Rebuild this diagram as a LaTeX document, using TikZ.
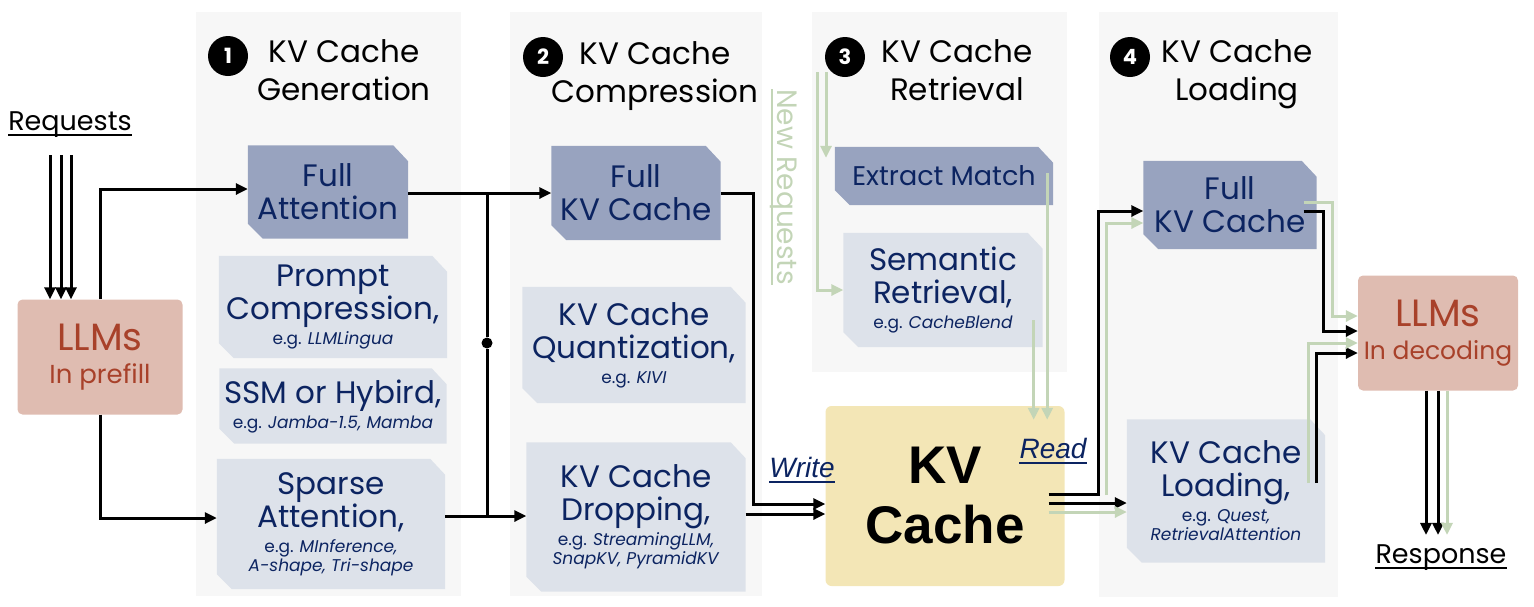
\documentclass[tikz,border=0pt]{standalone}
\usepackage{fontspec}
\setmainfont{Poppins}
\newfontfamily\kvfont{Liberation Sans}
\usetikzlibrary{calc, backgrounds, arrows.meta}

\definecolor{panelgray}{HTML}{F7F7F7}
\definecolor{darkbox}{HTML}{98A3BF}
\definecolor{lightbox}{HTML}{DDE2EA}
\definecolor{navy}{HTML}{0C2461}
\definecolor{llmbox}{HTML}{DFBCB1}
\definecolor{llmtext}{HTML}{A8412A}
\definecolor{kvyellow}{HTML}{F3E6B6}
\definecolor{newgreen}{HTML}{C3D5B7}

\newcommand{\boxsize}{\fontsize{31}{33}\selectfont}
\newcommand{\egsize}{\fontsize{17}{20}\selectfont}

\tikzset{method/.style = {inner sep=0pt, align=center, text=navy, font=\boxsize}}
\tikzset{llm/.style = {fill=llmbox, rounded corners=5pt, inner sep=0pt, align=center, text=llmtext, font=\fontsize{38}{33}\selectfont}}
\tikzset{kvstore/.style = {fill=kvyellow, rounded corners=6pt, inner sep=0pt, align=center, font=\kvfont\bfseries\fontsize{53}{60}\selectfont}}
\tikzset{stagetitle/.style = {align=center, inner sep=0pt, font=\fontsize{31}{38}\selectfont}}
\tikzset{num/.style = {circle, fill=black, text=white, minimum size=40pt, inner sep=0pt, font=\bfseries\fontsize{21}{21}\selectfont}}
\tikzset{uline/.style = {inner sep=0pt, text depth=5pt, append after command={(\tikzlastnode.south west) edge[draw=#1, line width=1.6pt] (\tikzlastnode.south east)}}}
\tikzset{ioname/.style = {uline=black, font=\fontsize{27}{30}\selectfont}}
\tikzset{rwlabel/.style = {uline=navy, text=navy, font=\kvfont\itshape\fontsize{28}{30}\selectfont}}
\tikzset{arr/.style = {line width=3pt, -{Triangle[length=12pt, width=11pt]}}}
\tikzset{garr/.style = {arr, color=newgreen}}
\tikzset{conn/.style = {line width=3pt}}
\tikzset{joint/.style = {circle, fill=black, minimum size=11pt, inner sep=0pt}}

\begin{document}
\begin{tikzpicture}[x=1pt, y=-1pt]
\useasboundingbox (0,0) rectangle (1534,606);

% Requests and prefill
\node[ioname, anchor=base] (req) at (70,130) {Requests};
\node[llm, minimum width=165, minimum height=115] (pre) at (100,357) {LLMs\\{\fontsize{26}{30}\selectfont In prefill}};

% Stage titles
\node[stagetitle] (t1) at (344,70) {KV Cache\\Generation};
\node[num] (n1) at (228,56) {1};
\node[stagetitle] (t2) at (655,76) {KV Cache\\Compression};
\node[num] (n2) at (543,57) {2};
\node[stagetitle] (t3) at (957,70) {KV Cache\\Retrieval};
\node[num] (n3) at (845,57) {3};
\node[stagetitle] (t4) at (1237,74) {KV Cache\\Loading};
\node[num] (n4) at (1130,57) {4};

% Generation
\node[method, minimum width=160, minimum height=93] (fa) at (328,192) {Full\\Attention};
\node[method, minimum width=228, minimum height=102] (pc) at (333,307) {Prompt\\Compression,\\[-8pt]{\egsize e.g. \textit{LLMLingua}}};
\node[method, minimum width=227, minimum height=75] (ssm) at (333,406) {SSM or Hybird,\\[-8pt]{\egsize e.g. \textit{Jamba-1.5, Mamba}}};
\node[method, minimum width=228, minimum height=130] (sa) at (331,524) {Sparse\\Attention,\\[-8pt]{\egsize e.g. \textit{MInference,}}\\[-14pt]{\egsize\textit{A-shape, Tri-shape}}};

% Compression
\node[method, minimum width=169, minimum height=94] (fkv) at (636,193) {Full\\KV Cache};
\node[method, minimum width=223, minimum height=116] (quant) at (634,345) {KV Cache\\Quantization,\\[-8pt]{\egsize e.g. \textit{KIVI}}};
\node[method, minimum width=219, minimum height=149] (drop) at (636,517) {KV Cache\\Dropping,\\[-8pt]{\egsize e.g. \textit{StreamingLLM,}}\\[-14pt]{\egsize\textit{SnapKV, PyramidKV}}};

% Retrieval
\node[method, font=\fontsize{27}{30}\selectfont, minimum width=218, minimum height=58] (em) at (944,176) {Extract Match};
\node[method, minimum width=199, minimum height=114] (sr) at (943,290) {Semantic\\Retrieval,\\[-8pt]{\egsize e.g. \textit{CacheBlend}}};
\node[uline=newgreen, anchor=base, rotate=-90, text=newgreen, font=\fontsize{28}{30}\selectfont] (nr) at (777,187) {New Requests};

% KV cache store
\node[kvstore, minimum width=239, minimum height=180] (kv) at (945,496) {KV\\Cache};
\node[rwlabel, anchor=base] (wr) at (802,477) {Write};
\node[rwlabel, anchor=base] (rd) at (1053,458) {Read};

% Loading
\node[method, minimum width=173, minimum height=88] (lkv) at (1230,205) {Full\\KV Cache};
\node[method, minimum width=198, minimum height=143] (load) at (1226,491) {KV Cache\\Loading,\\[-8pt]{\egsize e.g. \textit{Quest,}}\\[-14pt]{\egsize\textit{RetrievalAttention}}};

% Decoding and response
\node[llm, minimum width=160, minimum height=115] (dec) at (1438,333) {LLMs\\{\fontsize{25}{30}\selectfont In decoding}};
\node[ioname, anchor=base] (resp) at (1441,563) {Response};

% Panels and method boxes
\begin{scope}[on background layer]
  \fill[panelgray] (196,12) rectangle (461,596);
  \fill[panelgray] (510,12) rectangle (762,596);
  \fill[panelgray] (812,12) rectangle (1067,372);
  \fill[panelgray] (1099,12) rectangle (1338,597);
  \foreach \n/\c in {fa/darkbox, pc/lightbox, ssm/lightbox, sa/lightbox, fkv/darkbox, quant/lightbox, drop/lightbox, em/darkbox, sr/lightbox, lkv/darkbox, load/lightbox}
    \fill[\c] (\n.north west) -- ([xshift=-15pt]\n.north east) -- ([yshift=-16pt]\n.north east) -- (\n.south east) -- ([xshift=15pt]\n.south west) -- ([yshift=15pt]\n.south west) -- cycle;
\end{scope}

% Requests into prefill
\foreach \dx in {-20,-9,1}
  \draw[arr] ($(req.south)+(\dx,20)$) -- ($(req.south |- pre.north)+(\dx,0)$);
\draw[arr] (pre.north) |- ($(fa.west)+(0,-3)$);
\draw[arr] (pre.south) |- ($(sa.west)+(0,-6)$);

% Generation to compression
\coordinate (jt) at (487,193);
\node[joint] (jd) at (487,343) {};
\coordinate (jb) at (487,516);
\draw[conn] (fa.east |- jt) -- (jt) -- (jd) -- (jb) -- (sa.east |- jb);
\draw[arr] (jt) -- (fkv.west |- jt);
\draw[arr] (jb) -- (drop.west |- jb);

% Write
\coordinate (wa) at ($(kv.west)+(0,8)$);
\coordinate (wb) at ($(kv.west)+(0,18)$);
\draw[arr] (fkv.east) -- ++(33,0) |- (wa);
\draw[arr] (drop.east |- wb) -- (wb);

% New requests and read
\coordinate (nq1) at (826,72);
\coordinate (nq2) at (817,72);
\draw[garr] (nq1) -- ($(nq1 |- em.north)+(0,11)$);
\draw[garr] (nq2) |- (sr.west);
\draw[garr] ($(em.east)+(-6,-3)$) -- ($(em.east |- kv.north)+(-6,14)$);
\draw[garr] ($(sr.east)+(-9,30)$) -- ($(sr.east |- kv.north)+(-9,14)$);

% KV cache to loading
\draw[arr] ($(kv.east)+(-16,-2)$) -- ++(50,0) |- ($(lkv.west)+(0,6)$);
\draw[garr] ($(kv.east)+(42,-1)$) |- ($(lkv.west)+(0,18)$);
\draw[arr] ($(kv.east)+(-16,7)$) -- ($(load.west |- kv.east)+(0,7)$);
\draw[garr] ($(kv.east)+(-16,16)$) -- ($(load.west |- kv.east)+(0,16)$);

% Loading to decoding
\draw[arr] ($(lkv.east)+(-13,6)$) -- ++(20,0) |- ($(dec.west)+(0,-2)$);
\draw[garr] ($(lkv.east)+(-13,-3)$) -- ++(29,0) |- ($(dec.west)+(0,-17)$);
\draw[arr] ($(load.east)+(-9,-8)$) |- ($(dec.west)+(0,20)$);
\draw[garr] ($(load.east)+(-17,-8)$) |- ($(dec.west)+(0,10)$);

% Response
\foreach \dx in {-12,0}
  \draw[arr] ($(dec.south)+(\dx,0)$) -- ($(dec.south |- resp.north)+(\dx,-9)$);
\draw[garr] ($(dec.south)+(9,0)$) -- ($(dec.south |- resp.north)+(9,-9)$);
\end{tikzpicture}
\end{document}
